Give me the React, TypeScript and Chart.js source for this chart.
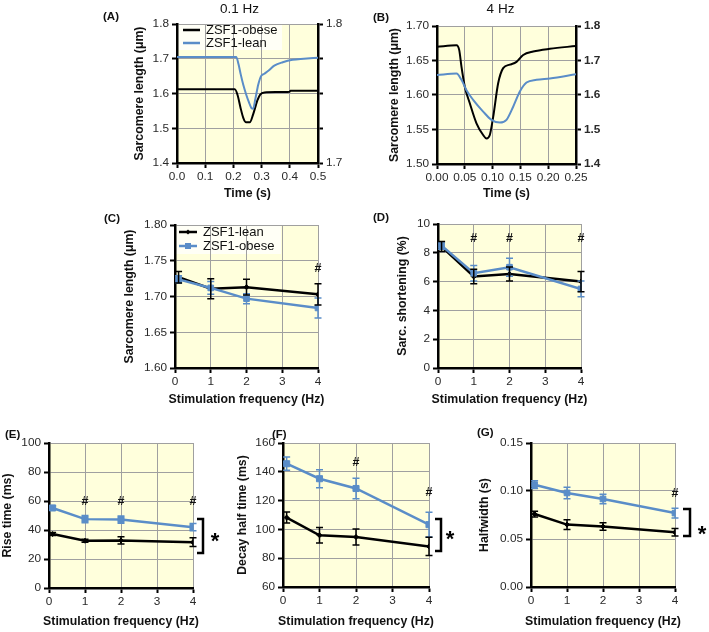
import React, { useEffect, useRef } from "react";
import { Chart, registerables } from "chart.js";

Chart.register(...registerables);

const FONT = "'Liberation Sans', Arial, Helvetica, sans-serif";
const BLUE = "#5a8dc8";
const BLACK = "#000000";
const PLOT_BG = "#ffffdc";
const LEGEND_BG = "#fffff6";
const GRID = "#a0a0a0";
const TICK_TEXT = "#2a2a2a";

// ---------- Panel A: 0.1 Hz traces ----------
const timeObeseA = [0, 0.205, 0.215, 0.225, 0.235, 0.245, 0.258, 0.27, 0.285, 0.295, 0.31, 0.35, 0.4, 0.402, 0.5];
const lenObeseA = [1.612, 1.612, 1.595, 1.56, 1.53, 1.517, 1.517, 1.54, 1.58, 1.597, 1.603, 1.604, 1.605, 1.608, 1.608];
const timeLeanA = [0, 0.21, 0.218, 0.226, 0.235, 0.245, 0.255, 0.264, 0.27, 0.278, 0.288, 0.298, 0.31, 0.325, 0.345, 0.375, 0.41, 0.45, 0.5];
const lenLeanA = [1.705, 1.705, 1.685, 1.655, 1.625, 1.598, 1.575, 1.558, 1.556, 1.585, 1.625, 1.65, 1.657, 1.666, 1.68, 1.69, 1.697, 1.7, 1.703];
const xTicksA = [0, 0.1, 0.2, 0.3, 0.4, 0.5];
const xLabelsA = ["0.0", "0.1", "0.2", "0.3", "0.4", "0.5"];
const yTicksA = [1.4, 1.5, 1.6, 1.7, 1.8];
const yLabelsA = ["1.4", "1.5", "1.6", "1.7", "1.8"];
const y2LabelsA = ["1.7", "", "", "", "1.8"];

// ---------- Panel B: 4 Hz traces ----------
const timeObeseB = [0, 0.035, 0.04, 0.044, 0.05, 0.059, 0.071, 0.083, 0.089, 0.095, 0.101, 0.11, 0.119, 0.131, 0.143, 0.155, 0.173, 0.203, 0.25];
const lenObeseB = [1.67, 1.672, 1.665, 1.641, 1.612, 1.588, 1.559, 1.542, 1.537, 1.542, 1.568, 1.617, 1.639, 1.644, 1.648, 1.658, 1.663, 1.667, 1.671];
const timeLeanB = [0, 0.035, 0.044, 0.053, 0.065, 0.083, 0.098, 0.113, 0.125, 0.137, 0.149, 0.161, 0.179, 0.203, 0.25];
const lenLeanB = [1.629, 1.631, 1.622, 1.607, 1.593, 1.576, 1.564, 1.56, 1.564, 1.583, 1.605, 1.618, 1.622, 1.624, 1.63];
const xTicksB = [0, 0.05, 0.1, 0.15, 0.2, 0.25];
const xLabelsB = ["0.00", "0.05", "0.10", "0.15", "0.20", "0.25"];
const yTicksB = [1.5, 1.55, 1.6, 1.65, 1.7];
const yLabelsB = ["1.50", "1.55", "1.60", "1.65", "1.70"];
const y2TicksB = [1.4, 1.5, 1.6, 1.7, 1.8];
const y2LabelsB = ["1.4", "1.5", "1.6", "1.7", "1.8"];

// ---------- Frequency panels ----------
const freq = [0.1, 1, 2, 4];
const freqTicks = [0, 1, 2, 3, 4];
const freqLabels = ["0", "1", "2", "3", "4"];

// C: sarcomere length
const slLean = [1.727, 1.711, 1.713, 1.703];
const slLeanErr = [0.008, 0.014, 0.011, 0.015];
const slObese = [1.724, 1.712, 1.697, 1.684];
const slObeseErr = [0.005, 0.009, 0.007, 0.014];
const yTicksC = [1.6, 1.65, 1.7, 1.75, 1.8];
const yLabelsC = ["1.60", "1.65", "1.70", "1.75", "1.80"];
const hashC = [4];

// D: sarcomere shortening
const shLean = [8.44, 6.35, 6.53, 6.0];
const shLeanErr = [0.35, 0.5, 0.48, 0.7];
const shObese = [8.5, 6.58, 7.0, 5.49];
const shObeseErr = [0.25, 0.54, 0.63, 0.55];
const yTicksD = [0, 2, 4, 6, 8, 10];
const yLabelsD = ["0", "2", "4", "6", "8", "10"];
const hashD = [1, 2, 4];

// E: rise time
const rtLean = [37.2, 32.6, 32.8, 31.6];
const rtLeanErr = [1.0, 1.0, 2.5, 3.0];
const rtObese = [55.2, 47.5, 47.2, 41.9];
const rtObeseErr = [1.5, 2.5, 2.5, 2.5];
const yTicksE = [0, 20, 40, 60, 80, 100];
const yLabelsE = ["0", "20", "40", "60", "80", "100"];
const hashE = [1, 2, 4];

// F: decay half time
const dtLean = [108.2, 95.9, 94.7, 88.2];
const dtLeanErr = [3.8, 5.4, 5.5, 6.4];
const dtObese = [145.6, 135.2, 128.4, 103.3];
const dtObeseErr = [4.6, 6.3, 7.2, 8.6];
const yTicksF = [60, 80, 100, 120, 140, 160];
const yLabelsF = ["60", "80", "100", "120", "140", "160"];
const hashF = [2, 4];

// G: halfwidth
const hwLean = [0.076, 0.065, 0.063, 0.057];
const hwLeanErr = [0.003, 0.005, 0.004, 0.004];
const hwObese = [0.1066, 0.098, 0.0917, 0.077];
const hwObeseErr = [0.004, 0.006, 0.005, 0.005];
const yTicksG = [0, 0.05, 0.1, 0.15];
const yLabelsG = ["0.00", "0.05", "0.10", "0.15"];
const hashG = [4];

// ---------- Types ----------
type Axis = { min: number; max: number; ticks: number[]; labels: string[]; bold?: boolean };
type TextItem = { text: string; x: number; y: number; size: number; bold?: boolean; align?: CanvasTextAlign; rotate?: boolean };
type LegendItem = { label: string; color: string; y: number; marker?: string };
type PanelDef = {
  key: string;
  box: [number, number, number, number];
  plot: [number, number, number, number];
  x: Axis;
  y: Axis;
  y2?: Axis;
  datasets: any[];
  texts: TextItem[];
  legend?: { x0: number; x1: number; xt: number; bg: [number, number, number, number]; items: LegendItem[] };
  hashes?: { x: number; y: number }[];
  bracket?: { xl: number; xr: number; top: number; bottom: number; starX: number; starY: number };
};

const trace = (t: number[], v: number[], color: string) => ({
  data: t.map((x, i) => ({ x, y: v[i] })),
  borderColor: color,
  backgroundColor: color,
  borderWidth: 2,
  pointRadius: 0,
  cubicInterpolationMode: "monotone",
  fill: false,
});

const series = (v: number[], e: number[], color: string, style: string, r: number) => ({
  data: freq.map((x, i) => ({ x, y: v[i] })),
  errors: e,
  borderColor: color,
  backgroundColor: color,
  borderWidth: 2.5,
  pointStyle: style,
  pointRadius: r,
  pointBorderWidth: 1,
  fill: false,
  tension: 0,
});

const freqAxis: Axis = { min: 0, max: 4, ticks: freqTicks, labels: freqLabels };
const SL = "Sarcomere length (\u03bcm)";
const SF = "Stimulation frequency (Hz)";

const panels: PanelDef[] = [
  {
    key: "A",
    box: [95, 0, 255, 200],
    plot: [177, 24, 318, 163],
    x: { min: 0, max: 0.5, ticks: xTicksA, labels: xLabelsA },
    y: { min: 1.4, max: 1.8, ticks: yTicksA, labels: yLabelsA },
    y2: { min: 1.4, max: 1.8, ticks: yTicksA, labels: y2LabelsA },
    datasets: [trace(timeLeanA, lenLeanA, BLUE), trace(timeObeseA, lenObeseA, BLACK)],
    texts: [
      { text: "(A)", x: 103, y: 17, size: 11.5, bold: true, align: "left" },
      { text: "0.1 Hz", x: 239.5, y: 9.5, size: 13.5 },
      { text: SL, x: 140, y: 93.5, size: 12.3, bold: true, rotate: true },
      { text: "Time (s)", x: 247.5, y: 194, size: 12.3, bold: true },
    ],
    legend: {
      x0: 183, x1: 200, xt: 206,
      bg: [178, 25, 282, 50],
      items: [
        { label: "ZSF1-obese", color: BLACK, y: 30 },
        { label: "ZSF1-lean", color: BLUE, y: 43 },
      ],
    },
  },
  {
    key: "B",
    box: [355, 0, 354, 200],
    plot: [437, 26, 576, 164],
    x: { min: 0, max: 0.25, ticks: xTicksB, labels: xLabelsB },
    y: { min: 1.5, max: 1.7, ticks: yTicksB, labels: yLabelsB },
    y2: { min: 1.4, max: 1.8, ticks: y2TicksB, labels: y2LabelsB, bold: true },
    datasets: [trace(timeLeanB, lenLeanB, BLUE), trace(timeObeseB, lenObeseB, BLACK)],
    texts: [
      { text: "(B)", x: 373, y: 18, size: 11.5, bold: true, align: "left" },
      { text: "4 Hz", x: 500.5, y: 9.5, size: 13.5 },
      { text: SL, x: 395, y: 95, size: 12.3, bold: true, rotate: true },
      { text: "Time (s)", x: 506.5, y: 194, size: 12.3, bold: true },
    ],
  },
  {
    key: "C",
    box: [95, 200, 255, 210],
    plot: [175, 225, 318, 368],
    x: freqAxis,
    y: { min: 1.6, max: 1.8, ticks: yTicksC, labels: yLabelsC },
    datasets: [series(slObese, slObeseErr, BLUE, "rect", 4), series(slLean, slLeanErr, BLACK, "rectRot", 2.5)],
    texts: [
      { text: "(C)", x: 104, y: 219, size: 11.5, bold: true, align: "left" },
      { text: SL, x: 130, y: 296.5, size: 12.3, bold: true, rotate: true },
      { text: SF, x: 246.5, y: 400, size: 12.3, bold: true },
    ],
    legend: {
      x0: 179, x1: 197, xt: 203,
      bg: [176, 226, 281, 254],
      items: [
        { label: "ZSF1-lean", color: BLACK, y: 232, marker: "diamond" },
        { label: "ZSF1-obese", color: BLUE, y: 246, marker: "square" },
      ],
    },
    hashes: hashC.map((x) => ({ x, y: 1.741 })),
  },
  {
    key: "D",
    box: [355, 200, 354, 210],
    plot: [438, 224, 581, 368],
    x: freqAxis,
    y: { min: 0, max: 10, ticks: yTicksD, labels: yLabelsD },
    datasets: [series(shObese, shObeseErr, BLUE, "rect", 4), series(shLean, shLeanErr, BLACK, "rectRot", 2.5)],
    texts: [
      { text: "(D)", x: 373, y: 218, size: 11.5, bold: true, align: "left" },
      { text: "Sarc. shortening (%)", x: 403, y: 296, size: 12.3, bold: true, rotate: true },
      { text: SF, x: 509.5, y: 400, size: 12.3, bold: true },
    ],
    hashes: hashD.map((x) => ({ x, y: 9.05 })),
  },
  {
    key: "E",
    box: [0, 405, 230, 227],
    plot: [49, 443, 193, 588],
    x: freqAxis,
    y: { min: 0, max: 100, ticks: yTicksE, labels: yLabelsE },
    datasets: [series(rtObese, rtObeseErr, BLUE, "rect", 4.3), series(rtLean, rtLeanErr, BLACK, "rectRot", 2.5)],
    texts: [
      { text: "(E)", x: 5, y: 435, size: 11.5, bold: true, align: "left" },
      { text: "Rise time (ms)", x: 8, y: 515.5, size: 12.3, bold: true, rotate: true },
      { text: SF, x: 121, y: 622, size: 12.3, bold: true },
    ],
    hashes: hashE.map((x) => ({ x, y: 60.5 })),
    bracket: { xl: 197, xr: 203, top: 47.6, bottom: 24.1, starX: 215, starY: 535 },
  },
  {
    key: "F",
    box: [230, 405, 230, 227],
    plot: [283, 443, 429, 587],
    x: freqAxis,
    y: { min: 60, max: 160, ticks: yTicksF, labels: yLabelsF },
    datasets: [series(dtObese, dtObeseErr, BLUE, "rect", 4.3), series(dtLean, dtLeanErr, BLACK, "rectRot", 2.5)],
    texts: [
      { text: "(F)", x: 272, y: 435, size: 11.5, bold: true, align: "left" },
      { text: "Decay half time (ms)", x: 243, y: 515, size: 12.3, bold: true, rotate: true },
      { text: SF, x: 356, y: 622, size: 12.3, bold: true },
    ],
    hashes: [
      { x: hashF[0], y: 147.5 },
      { x: hashF[1], y: 126.5 },
    ],
    bracket: { xl: 435, xr: 441, top: 107.2, bottom: 85, starX: 450, starY: 533 },
  },
  {
    key: "G",
    box: [460, 405, 249, 227],
    plot: [531, 443, 675, 587],
    x: freqAxis,
    y: { min: 0, max: 0.15, ticks: yTicksG, labels: yLabelsG },
    datasets: [series(hwObese, hwObeseErr, BLUE, "rect", 4), series(hwLean, hwLeanErr, BLACK, "rectRot", 2.5)],
    texts: [
      { text: "(G)", x: 477, y: 433, size: 11.5, bold: true, align: "left" },
      { text: "Halfwidth (s)", x: 485, y: 515, size: 12.3, bold: true, rotate: true },
      { text: SF, x: 603, y: 622, size: 12.3, bold: true },
    ],
    hashes: hashG.map((x) => ({ x, y: 0.098 })),
    bracket: { xl: 683, xr: 690, top: 0.0813, bottom: 0.0531, starX: 702, starY: 528 },
  },
];

const fontStr = (size: number, bold?: boolean) => `${bold ? "bold " : ""}${size}px ${FONT}`;

function decorPlugin(def: PanelDef) {
  const [bx, by] = def.box;
  return {
    id: "decor" + def.key,
    beforeDraw(chart: any) {
      const { ctx, chartArea: a } = chart;
      ctx.save();
      ctx.fillStyle = PLOT_BG;
      ctx.fillRect(a.left, a.top, a.right - a.left, a.bottom - a.top);
      if (def.legend) {
        const [l, t, r, b] = def.legend.bg;
        ctx.fillStyle = LEGEND_BG;
        ctx.fillRect(l - bx, t - by, r - l, b - t);
      }
      ctx.restore();
    },
    afterDatasetsDraw(chart: any) {
      const ctx = chart.ctx;
      const xs = chart.scales.x;
      const ys = chart.scales.y;
      ctx.save();
      chart.data.datasets.forEach((ds: any) => {
        if (!ds.errors) return;
        ctx.strokeStyle = ds.borderColor;
        ctx.lineWidth = 1.5;
        ds.data.forEach((p: any, i: number) => {
          const e = ds.errors[i];
          const px = xs.getPixelForValue(p.x);
          const t = ys.getPixelForValue(p.y + e);
          const b = ys.getPixelForValue(p.y - e);
          ctx.beginPath();
          ctx.moveTo(px, t);
          ctx.lineTo(px, b);
          ctx.moveTo(px - 3.5, t);
          ctx.lineTo(px + 3.5, t);
          ctx.moveTo(px - 3.5, b);
          ctx.lineTo(px + 3.5, b);
          ctx.stroke();
        });
      });
      ctx.restore();
    },
    afterDraw(chart: any) {
      const ctx = chart.ctx;
      const xs = chart.scales.x;
      const ys = chart.scales.y;
      ctx.save();
      ctx.fillStyle = "#111";
      ctx.textBaseline = "middle";
      def.texts.forEach((t) => {
        ctx.save();
        ctx.font = fontStr(t.size, t.bold);
        ctx.textAlign = t.align || "center";
        ctx.translate(t.x - bx, t.y - by);
        if (t.rotate) ctx.rotate(-Math.PI / 2);
        ctx.fillText(t.text, 0, 0);
        ctx.restore();
      });
      if (def.legend) {
        const L = def.legend;
        L.items.forEach((it) => {
          ctx.strokeStyle = it.color;
          ctx.fillStyle = it.color;
          ctx.lineWidth = 2.5;
          ctx.beginPath();
          ctx.moveTo(L.x0 - bx, it.y - by);
          ctx.lineTo(L.x1 - bx, it.y - by);
          ctx.stroke();
          const mx = (L.x0 + L.x1) / 2 - bx;
          const my = it.y - by;
          if (it.marker === "square") {
            ctx.fillRect(mx - 3, my - 3, 6, 6);
          } else if (it.marker === "diamond") {
            ctx.beginPath();
            ctx.moveTo(mx, my - 2.5);
            ctx.lineTo(mx + 2.5, my);
            ctx.lineTo(mx, my + 2.5);
            ctx.lineTo(mx - 2.5, my);
            ctx.closePath();
            ctx.fill();
          }
          ctx.fillStyle = "#111";
          ctx.font = fontStr(13);
          ctx.textAlign = "left";
          ctx.fillText(it.label, L.xt - bx, it.y - by);
        });
      }
      if (def.hashes) {
        ctx.fillStyle = "#111";
        ctx.font = fontStr(12.5, true);
        ctx.textAlign = "center";
        ctx.textBaseline = "alphabetic";
        def.hashes.forEach((h) => {
          ctx.fillText("#", xs.getPixelForValue(h.x), ys.getPixelForValue(h.y) + 4.5);
        });
      }
      if (def.bracket) {
        const br = def.bracket;
        const t = ys.getPixelForValue(br.top);
        const b = ys.getPixelForValue(br.bottom);
        ctx.strokeStyle = "#000";
        ctx.lineWidth = 2.5;
        ctx.beginPath();
        ctx.moveTo(br.xl - bx, t);
        ctx.lineTo(br.xr - bx, t);
        ctx.lineTo(br.xr - bx, b);
        ctx.lineTo(br.xl - bx, b);
        ctx.stroke();
        ctx.fillStyle = "#000";
        ctx.font = fontStr(22, true);
        ctx.textAlign = "center";
        ctx.textBaseline = "alphabetic";
        ctx.fillText("*", br.starX - bx, br.starY - by + 12.5);
      }
      ctx.restore();
    },
  };
}

function buildConfig(def: PanelDef): any {
  const [bx, by, bw, bh] = def.box;
  const [pl, pt, pr, pb] = def.plot;
  const YW = 40;
  const XH = 22;
  const RW = 30;
  const scale = (ax: Axis, kind: "x" | "y" | "y2") => ({
    type: "linear",
    position: kind === "x" ? "bottom" : kind === "y" ? "left" : "right",
    min: ax.min,
    max: ax.max,
    afterBuildTicks: (s: any) => {
      s.ticks = ax.ticks.map((value) => ({ value }));
    },
    afterFit: (s: any) => {
      if (kind === "x") s.height = XH;
      else s.width = kind === "y" ? YW : RW;
    },
    ticks: {
      autoSkip: false,
      maxRotation: 0,
      minRotation: 0,
      padding: kind === "x" ? 2 : 3,
      color: TICK_TEXT,
      font: { family: FONT, size: 11.8, weight: ax.bold ? "bold" : "normal" },
      callback: (_v: any, i: number) => ax.labels[i],
    },
    grid: {
      color: GRID,
      lineWidth: 1,
      drawOnChartArea: kind !== "y2",
      drawTicks: true,
      tickLength: 5,
      tickColor: "#000",
      tickWidth: 2,
    },
    border: { display: true, color: "#000", width: 2.5 },
  });
  const scales: any = { x: scale(def.x, "x"), y: scale(def.y, "y") };
  if (def.y2) scales.y2 = scale(def.y2, "y2");
  return {
    type: "line",
    data: { datasets: def.datasets },
    options: {
      responsive: false,
      maintainAspectRatio: false,
      animation: false,
      devicePixelRatio: 1,
      layout: {
        padding: {
          left: pl - bx - YW,
          top: pt - by,
          right: bx + bw - pr - (def.y2 ? RW : 0),
          bottom: by + bh - pb - XH,
        },
      },
      plugins: { legend: { display: false }, title: { display: false }, tooltip: { enabled: false } },
      scales,
    },
    plugins: [decorPlugin(def)],
  };
}

function PanelChart({ def }: { def: PanelDef }) {
  const ref = useRef<HTMLCanvasElement>(null);
  useEffect(() => {
    const chart = new Chart(ref.current as HTMLCanvasElement, buildConfig(def));
    return () => chart.destroy();
  }, [def]);
  const [bx, by, bw, bh] = def.box;
  return (
    <canvas
      ref={ref}
      width={bw}
      height={bh}
      style={{ position: "absolute", left: bx, top: by, width: bw, height: bh }}
    />
  );
}

export default function App() {
  return (
    <div style={{ position: "absolute", left: 0, top: 0, width: 709, height: 632, background: "#ffffff", overflow: "hidden" }}>
      {panels.map((p) => (
        <PanelChart key={p.key} def={p} />
      ))}
    </div>
  );
}
